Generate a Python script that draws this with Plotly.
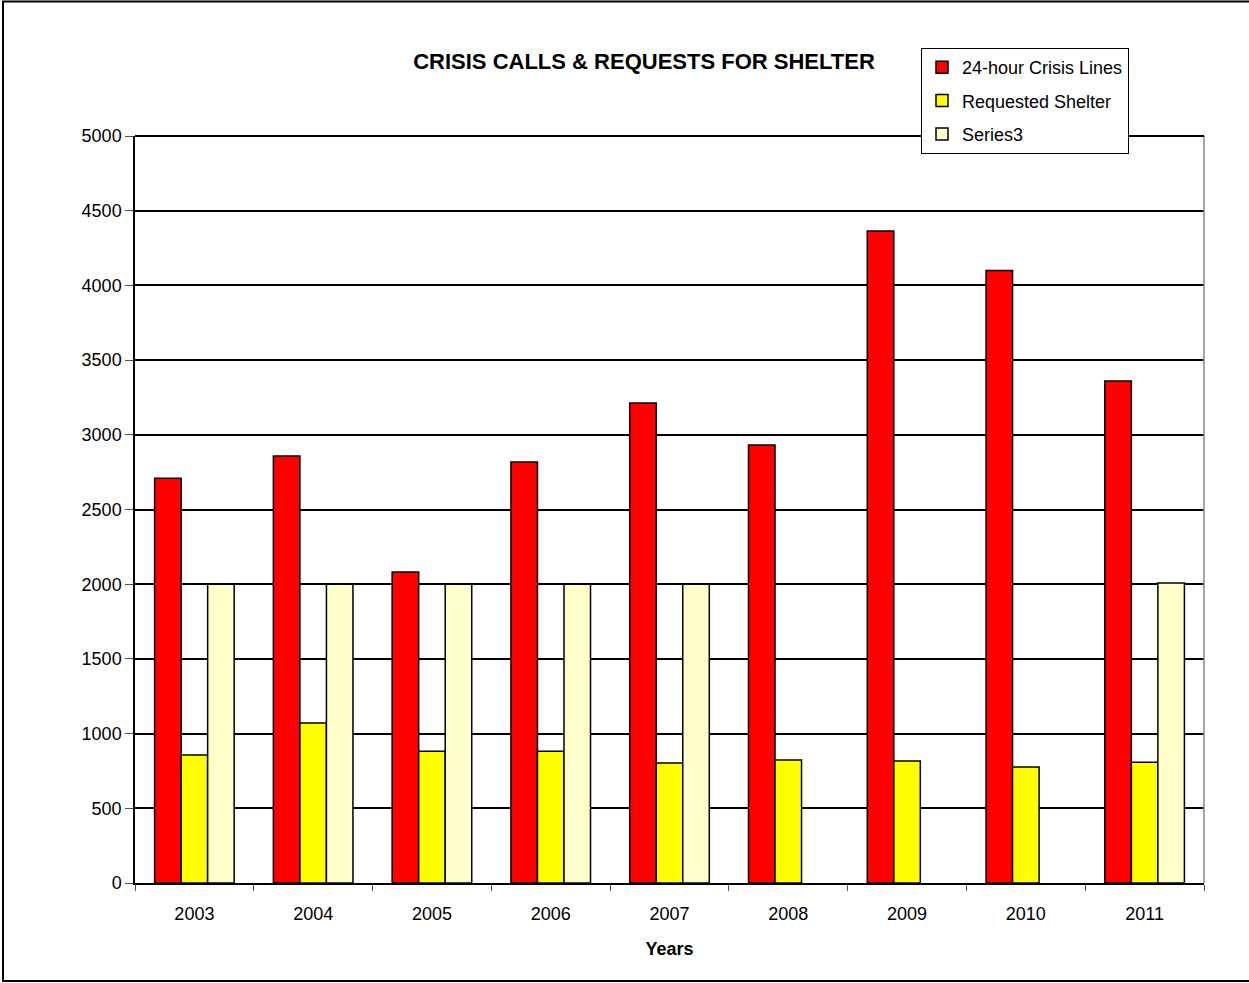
import plotly.graph_objects as go

years = ["2003", "2004", "2005", "2006", "2007", "2008", "2009", "2010", "2011"]
crisis_lines = [2710, 2858, 2082, 2818, 3213, 2932, 4364, 4100, 3360]
requested_shelter = [857, 1071, 882, 882, 803, 823, 817, 776, 808]
series3 = [2000, 2000, 2000, 2000, 2000, None, None, None, 2008]

W, H = 1249, 983
L, R, T, B = 135, 45, 136, 100
pw, ph = W - L - R, H - T - B

def px_x(p):
    return (p - L) / pw

def px_y(p):
    return (H - B - p) / ph

fig = go.Figure()
for i, (name, vals, color) in enumerate([
    ("24-hour Crisis Lines", crisis_lines, "#FF0000"),
    ("Requested Shelter", requested_shelter, "#FFFF00"),
    ("Series3", series3, "#FFFFCC"),
]):
    fig.add_trace(go.Bar(
        x=years, y=vals, name=name, legendgroup="g%d" % i,
        marker=dict(color=color, line=dict(color="#000000", width=1.5)),
    ))

fig.update_layout(
    width=W, height=H,
    margin=dict(l=L, r=R, t=T, b=B),
    paper_bgcolor="white", plot_bgcolor="white",
    barmode="group", bargap=0.33, bargroupgap=0,
    font=dict(family="Liberation Sans, Arial", size=18, color="#000"),
    title=dict(
        text="<b>CRISIS CALLS &amp; REQUESTS FOR SHELTER</b>",
        x=px_x(644), xref="paper", xanchor="center",
        y=1 - 61 / H, yref="container", yanchor="middle",
        font=dict(size=22, color="#000"),
    ),
    legend=dict(
        x=px_x(921), y=px_y(48), xref="paper", yref="paper",
        xanchor="left", yanchor="top",
        bordercolor="#000", borderwidth=1, bgcolor="white",
        font=dict(size=18), tracegroupgap=7,
        itemwidth=30,
    ),
    xaxis=dict(
        title=dict(text="<b>Years</b>", font=dict(size=18), standoff=19),
        showline=True, linecolor="#000", linewidth=1.5,
        ticks="outside", tickson="boundaries", ticklen=6, tickcolor="#555",
        ticklabelstandoff=14,
        showgrid=False, mirror=False,
    ),
    yaxis=dict(
        range=[0, 5000], dtick=500, tickformat="d",
        showline=True, linecolor="#000", linewidth=1.5,
        ticks="outside", ticklen=8, tickcolor="#555",
        showgrid=True, gridcolor="#000", gridwidth=1.5,
        zeroline=False,
    ),
    shapes=[
        dict(type="line", xref="paper", yref="paper", x0=1, x1=1, y0=0, y1=1,
             line=dict(color="#888", width=1.5)),
        dict(type="line", xref="paper", yref="paper", x0=0, x1=1, y0=1, y1=1,
             line=dict(color="#000", width=2)),
        dict(type="rect", xref="paper", yref="paper",
             x0=px_x(3), x1=px_x(1252), y0=px_y(981), y1=px_y(1.5),
             line=dict(color="#000", width=2), layer="below"),
    ],
)

fig.write_html(
    "out.html",
    config={"displayModeBar": False},
    post_script="document.body.style.margin='0';document.body.style.overflow='hidden';",
)
